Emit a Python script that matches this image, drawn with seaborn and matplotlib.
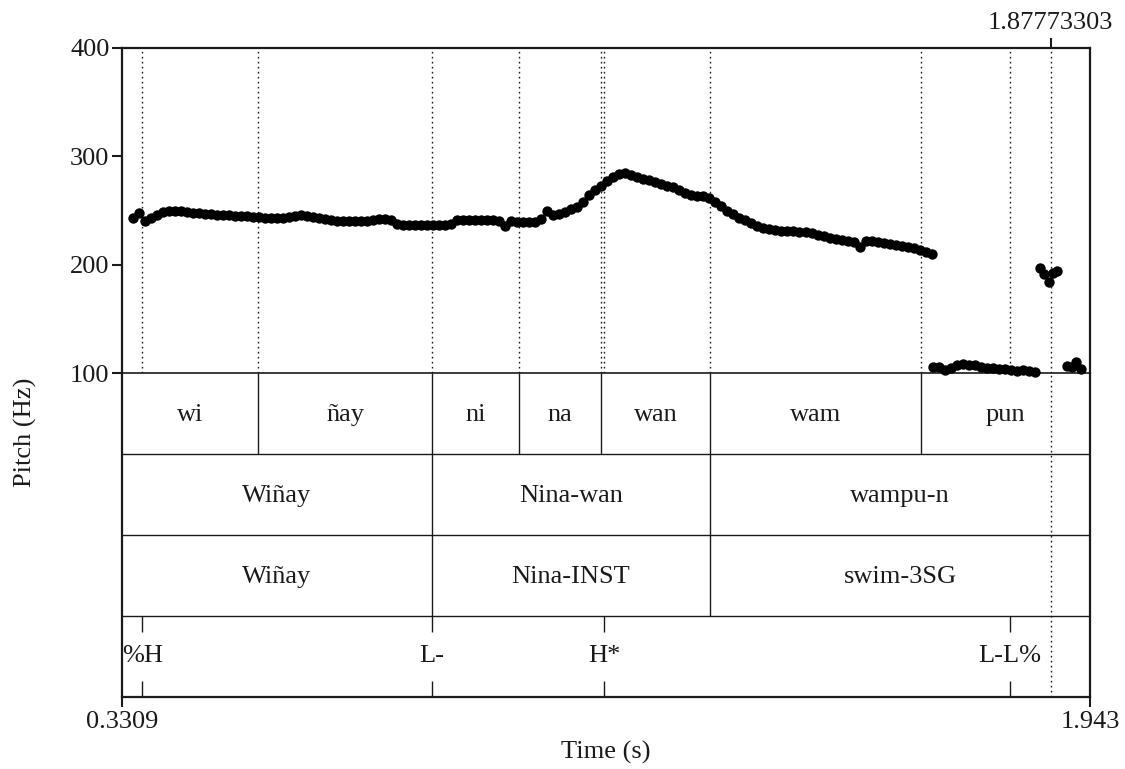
import numpy as np
import pandas as pd
import matplotlib
matplotlib.use("Agg")
import matplotlib.pyplot as plt
import seaborn as sns

# ---------------- data ----------------
T_START, T_END = 0.3309, 1.943
CURSOR = 1.87773303

# pitch track, main voiced stretch (frames every 0.01 s)
pitch_a_t0 = 0.3492
pitch_a_hz = [
    243, 248, 240, 243, 246, 249, 250, 250, 249.5, 249,
    248, 247.5, 247, 246.5, 246, 246, 245.5, 245, 245, 244.5,
    244, 244, 243.5, 243.5, 243.5, 243.5, 244, 245, 245.5, 245,
    244, 243, 242, 241, 240.5, 240, 240, 240, 240, 240.5,
    241, 242, 242, 241.5, 238, 237, 236.5, 237, 236.5, 236.5,
    236.5, 236.5, 237, 238, 241.5, 241.5, 241.5, 241.5, 241.5, 241.5,
    241, 240, 236, 240, 239, 239, 239, 239.5, 242, 250,
    245.5, 247, 249, 251, 253.5, 258, 264, 269, 273, 277.5,
    281, 283.5, 284.5, 283, 281, 279.5, 278, 276.5, 274.5, 273,
    271.5, 269, 266.5, 264, 263, 263.5, 262, 258, 254, 250,
    246.5, 243.5, 241, 238.5, 235.5, 233.5, 232.5, 232, 231.5, 231.5,
    231, 230, 230, 229, 227.5, 226.5, 225, 224, 223, 221.5,
    220.5, 216, 222, 221.5, 220.5, 220, 219.5, 218.5, 217.5, 216.5,
    215, 213.5, 211.5, 210,
]
# low stretch in "pun"
pitch_b_t0 = 1.6816
pitch_b_hz = [106, 106, 103, 105, 107, 108, 107.5, 107, 106, 105,
              104.5, 104, 103.5, 103, 102, 102.5, 102, 101]
# isolated clusters near the end
pitch_c_t = [1.8598, 1.8664, 1.8748, 1.8814, 1.8881]
pitch_c_hz = [197, 191, 184, 192, 194]
pitch_d_t = [1.9048, 1.9131, 1.9198, 1.9280]
pitch_d_hz = [106.5, 106, 110.5, 103.5]

syllables = ["wi", "ñay", "ni", "na", "wan", "wam", "pun"]
syll_bounds = [0.3309, 0.5574, 0.8472, 0.9921, 1.1286, 1.3102, 1.6616, 1.943]
words = ["Wiñay", "Nina-wan", "wampu-n"]
word_bounds = [0.3309, 0.8472, 1.3102, 1.943]
glosses = ["Wiñay", "Nina-INST", "swim-3SG"]
gloss_bounds = [0.3309, 0.8472, 1.3102, 1.943]
tones = ["%H", "L-", "H*", "L-L%"]
tone_times = [0.3650, 0.8472, 1.1336, 1.8098]

pitch_ticks = [100, 200, 300, 400]

# ---------------- build table ----------------
ta = pitch_a_t0 + 0.01 * np.arange(len(pitch_a_hz))
tb = pitch_b_t0 + 0.01 * np.arange(len(pitch_b_hz))
df = pd.DataFrame({
    "time": np.concatenate([ta, tb, pitch_c_t, pitch_d_t]),
    "hz": np.concatenate([pitch_a_hz, pitch_b_hz, pitch_c_hz, pitch_d_hz]),
})

# ---------------- style ----------------
sns.set_theme(style="ticks")
plt.rcParams["font.family"] = ["Liberation Serif", "DejaVu Serif"]
FS = 19
INK = "#1a1a1a"

fig = plt.figure(figsize=(11.25, 7.69), dpi=100)
L, W = 122 / 1125, (1090 - 122) / 1125
axt = fig.add_axes([L, 1 - 697 / 769, W, (697 - 373) / 769])
ax = fig.add_axes([L, 1 - 373 / 769, W, (373 - 48) / 769])
ax.set_zorder(3)
ax.patch.set_alpha(0)

# ---------------- pitch panel ----------------
dotted = (0, (1.2, 2.4))
for t in sorted(set(syll_bounds[1:-1] + word_bounds[1:-1] + tone_times)):
    ax.axvline(t, color=INK, lw=1.0, ls=dotted, zorder=1)
ax.axvline(CURSOR, color=INK, lw=1.0, ls=dotted, zorder=1)

sns.scatterplot(data=df, x="time", y="hz", ax=ax, color="black", s=56,
                linewidth=0, legend=False, zorder=3, clip_on=False)

ax.set_xlim(T_START, T_END)
ax.set_ylim(100, 400)
ax.set_yticks(pitch_ticks)
ax.set_yticklabels([str(v) for v in pitch_ticks], fontsize=FS)
ax.tick_params(axis="y", direction="out", length=7, width=1.5, pad=2, colors=INK)
ax.xaxis.tick_top()
ax.set_xticks([CURSOR])
ax.set_xticklabels([f"{CURSOR:.8f}"], fontsize=FS)
ax.tick_params(axis="x", direction="out", length=7, width=1.5, pad=3, colors=INK)
ax.set_xlabel("")
ax.set_ylabel("")
for side in ["left", "top", "right"]:
    ax.spines[side].set_linewidth(1.6)
    ax.spines[side].set_color(INK)
ax.spines["bottom"].set_visible(False)

# ---------------- TextGrid tiers ----------------
axt.set_xlim(T_START, T_END)
axt.set_ylim(0, 4)
for y in [1, 2, 3]:
    axt.axhline(y, color=INK, lw=1.0)


def interval_tier(labels, bounds, row):
    y0, y1 = row, row + 1
    for b in bounds[1:-1]:
        axt.vlines(b, y0, y1, color=INK, lw=1.0)
    for lab, a, b in zip(labels, bounds[:-1], bounds[1:]):
        axt.text((a + b) / 2, y0 + 0.48, lab, ha="center", va="center",
                 fontsize=FS, color=INK)


interval_tier(syllables, syll_bounds, 3)
interval_tier(words, word_bounds, 2)
interval_tier(glosses, gloss_bounds, 1)
for lab, t in zip(tones, tone_times):
    axt.vlines(t, 0.8, 1.0, color=INK, lw=1.0)
    axt.vlines(t, 0.0, 0.2, color=INK, lw=1.0)
    axt.text(t, 0.5, lab, ha="center", va="center", fontsize=FS, color=INK)
axt.axvline(CURSOR, color=INK, lw=1.0, ls=dotted)

axt.set_yticks([])
axt.set_xticks([T_START, T_END])
axt.set_xticklabels(["0.3309", "1.943"], fontsize=FS)
axt.tick_params(axis="x", direction="out", length=7, width=1.5, pad=3, colors=INK)
axt.set_xlabel("Time (s)", fontsize=FS, labelpad=6, color=INK)
for side in ["left", "bottom", "right"]:
    axt.spines[side].set_linewidth(1.6)
    axt.spines[side].set_color(INK)
axt.spines["top"].set_linewidth(1.2)
axt.spines["top"].set_color(INK)

fig.text(25 / 1125, 1 - 432 / 769, "Pitch (Hz)", rotation=90, ha="center",
         va="center", fontsize=FS, color=INK)

fig.savefig("out.png", dpi=100, facecolor="white")
